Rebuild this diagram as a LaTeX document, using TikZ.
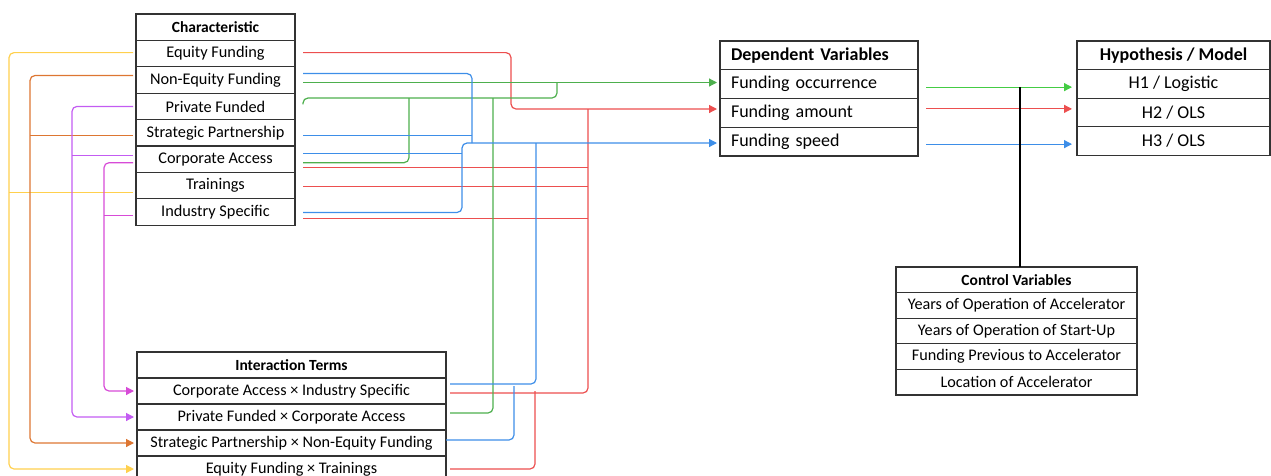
\documentclass[tikz,border=0pt]{standalone}
\usepackage{fontspec}
\setmainfont{Carlito}
\usetikzlibrary{positioning,arrows.meta}

\definecolor{cred}{HTML}{EC4F4F}
\definecolor{cgreen}{HTML}{4DAF4D}
\definecolor{cgreenb}{HTML}{44CC44}
\definecolor{cblue}{HTML}{3D8EE8}
\definecolor{cyel}{HTML}{FFD04D}
\definecolor{corange}{HTML}{DD7632}
\definecolor{cviolet}{HTML}{C35CF2}
\definecolor{cmag}{HTML}{D74BD7}

\begin{document}
\begin{tikzpicture}[x=1pt, y=-1pt, >={Triangle[length=8pt,width=8pt]},
    cell/.style={rectangle, draw=black!80, line width=1.3pt, inner sep=0pt, outer sep=0pt},
    chcell/.style={cell, minimum width=159pt, minimum height=26.4pt, font=\fontsize{16.3}{18}\selectfont},
    itcell/.style={cell, minimum width=309pt, minimum height=26pt, font=\fontsize{16.2}{18}\selectfont},
    dvcell/.style={cell, minimum width=198pt, minimum height=28.75pt, text width=176pt, align=left, font=\fontsize{18}{20}\selectfont},
    hmcell/.style={cell, minimum width=193pt, minimum height=28.6pt, font=\fontsize{18}{20}\selectfont},
    cvcell/.style={cell, minimum width=241pt, minimum height=25.6pt, font=\fontsize{16.2}{18}\selectfont},
    link/.style={line width=1.2pt, rounded corners=5pt},
    from/.style={shorten <=8pt},
    fromleft/.style={shorten <=3pt},
    to/.style={shorten >=4pt},
]
\useasboundingbox (0,0) rectangle (1271,475);

% characteristic
\node[chcell, anchor=north, font=\fontsize{15.5}{18}\selectfont\bfseries] (chr) at (215.5,14) {Characteristic};
\node[chcell, below=0pt of chr] (ef) {Equity Funding};
\node[chcell, below=0pt of ef] (nef) {Non-Equity Funding};
\node[chcell, below=0pt of nef] (pf) {Private Funded};
\node[chcell, below=0pt of pf] (sp) {Strategic Partnership};
\node[chcell, below=0pt of sp] (ca) {Corporate Access};
\node[chcell, below=0pt of ca] (tr) {Trainings};
\node[chcell, below=0pt of tr] (is) {Industry Specific};

% interaction terms
\node[itcell, anchor=north, font=\fontsize{15.5}{18}\selectfont\bfseries] (it) at (291.5,352) {Interaction Terms};
\node[itcell, below=0pt of it] (it1) {Corporate Access × Industry Specific};
\node[itcell, below=0pt of it1] (it2) {Private Funded × Corporate Access};
\node[itcell, below=0pt of it2] (it3) {Strategic Partnership × Non-Equity Funding};
\node[itcell, below=0pt of it3] (it4) {Equity Funding × Trainings};

% dependent variables
\node[dvcell, anchor=north, font=\fontsize{18}{20}\selectfont\bfseries] (dv) at (819,41) {Dependent Variables};
\node[dvcell, below=0pt of dv] (fo) {Funding occurrence};
\node[dvcell, below=0pt of fo] (fa) {Funding amount};
\node[dvcell, below=0pt of fa] (fs) {Funding speed};

% hypothesis / model
\node[hmcell, anchor=north, font=\fontsize{18}{20}\selectfont\bfseries] (hm) at (1173.5,41) {Hypothesis / Model};
\node[hmcell, below=0pt of hm] (h1) {H1 / Logistic};
\node[hmcell, below=0pt of h1] (h2) {H2 / OLS};
\node[hmcell, below=0pt of h2] (h3) {H3 / OLS};

% control variables
\node[cvcell, anchor=north, font=\fontsize{15.5}{18}\selectfont\bfseries] (cv) at (1016.5,267) {Control Variables};
\node[cvcell, below=0pt of cv] (c1) {Years of Operation of Accelerator};
\node[cvcell, below=0pt of c1] (c2) {Years of Operation of Start-Up};
\node[cvcell, below=0pt of c2] (c3) {Funding Previous to Accelerator};
\node[cvcell, below=0pt of c3] (c4) {Location of Accelerator};

% bends
\coordinate (ybus) at (9,0);
\coordinate (obus) at (30,0);
\coordinate (vbus) at (72,0);
\coordinate (mbus) at (104,0);
\coordinate (rA) at (511,109);
\coordinate (rbus) at (588,109);
\coordinate (rB) at (535,391);
\coordinate (gA) at (557,98);
\coordinate (gB) at (557,82);
\coordinate (gC) at (409,98);
\coordinate (gD) at (493,98);
\coordinate (bA) at (472,143);
\coordinate (bB) at (462,143);
\coordinate (bC) at (536,143);
\coordinate (bD) at (514,382);
\coordinate (cvlink) at (1020,87);

% left side
\draw[link, cyel, ->, fromleft, shorten >=3pt] ([yshift=1pt]ef.west) -| (ybus |- it4.west) -- (it4.west);
\draw[link, cyel, fromleft] ([yshift=-7pt]tr.west) -- ([yshift=-7pt]tr.west -| ybus);
\draw[link, corange, ->, fromleft, shorten >=3pt] ([yshift=4.5pt]nef.west) -| (obus |- it3.west) -- (it3.west);
\draw[link, corange, fromleft] ([yshift=-3pt]sp.west) -- ([yshift=-3pt]sp.west -| obus);
\draw[link, cviolet, ->, fromleft, shorten >=3pt] (pf.west) -| (vbus |- it2.west) -- (it2.west);
\draw[link, cviolet, fromleft] ([yshift=3.5pt]ca.west) -- ([yshift=3.5pt]ca.west -| vbus);
\draw[link, cmag, ->, fromleft, shorten >=3pt] ([yshift=-3.5pt]ca.west) -| (mbus |- it1.west) -- (it1.west);
\draw[link, cmag, fromleft] ([yshift=-3.5pt]is.west) -- ([yshift=-3.5pt]is.west -| mbus);

% red
\draw[link, cred, ->, from, shorten >=3pt] ([yshift=1pt]ef.east) -| (rA) -- (rA -| fa.west);
\draw[link, cred, to] (rbus) |- ([yshift=-2pt]it1.east);
\draw[link, cred, from] ([yshift=-8.5pt]ca.east) -- ([yshift=-8.5pt]ca.east -| rbus);
\draw[link, cred, from] ([yshift=-1pt]tr.east) -- ([yshift=-1pt]tr.east -| rbus);
\draw[link, cred, from] ([yshift=-6.5pt]is.east) -- ([yshift=-6.5pt]is.east -| rbus);
\draw[link, cred, to] (rB) |- (it4.east);

% green
\draw[link, cgreen, ->, from, shorten >=3pt] ([yshift=-2.5pt]nef.east) -- ([yshift=-2.5pt]nef.east -| fo.west);
\draw[link, cgreen] ([xshift=8pt,yshift=2pt]pf.east) |- (gA) -- (gB);
\draw[link, cgreen, from] ([yshift=-3.5pt]ca.east) -| (gC);
\draw[link, cgreen, to] (gD) |- ([yshift=4pt]it2.east);

% blue
\draw[link, cblue, from] ([yshift=6.5pt]nef.east) -| (bA);
\draw[link, cblue, from] ([yshift=-3pt]sp.east) -- ([yshift=-3pt]sp.east -| bA);
\draw[link, cblue, ->, from, shorten >=3pt] ([yshift=-0.5pt]is.east) -| (bB) -- (bB -| fs.west);
\draw[link, cblue, from] ([yshift=5.5pt]ca.east) -- ([yshift=5.5pt]ca.east -| bB);
\draw[link, cblue, to] (bC) |- ([yshift=7pt]it1.east);
\draw[link, cblue, to] ([yshift=3pt]it3.east) -| (bD);

% to hypotheses
\draw[link, cgreenb, ->, from, shorten >=5pt] ([yshift=-3pt]fo.east) -- ([yshift=-3pt]fo.east -| h1.west);
\draw[link, cred, ->, from, shorten >=5pt] ([yshift=4pt]fa.east) -- ([yshift=4pt]fa.east -| h2.west);
\draw[link, cblue, ->, from, shorten >=5pt] ([yshift=-2.5pt]fs.east) -- ([yshift=-2.5pt]fs.east -| h3.west);
\draw[line width=1.2pt] (cvlink) -- (cvlink |- cv.north);
\end{tikzpicture}
\end{document}
